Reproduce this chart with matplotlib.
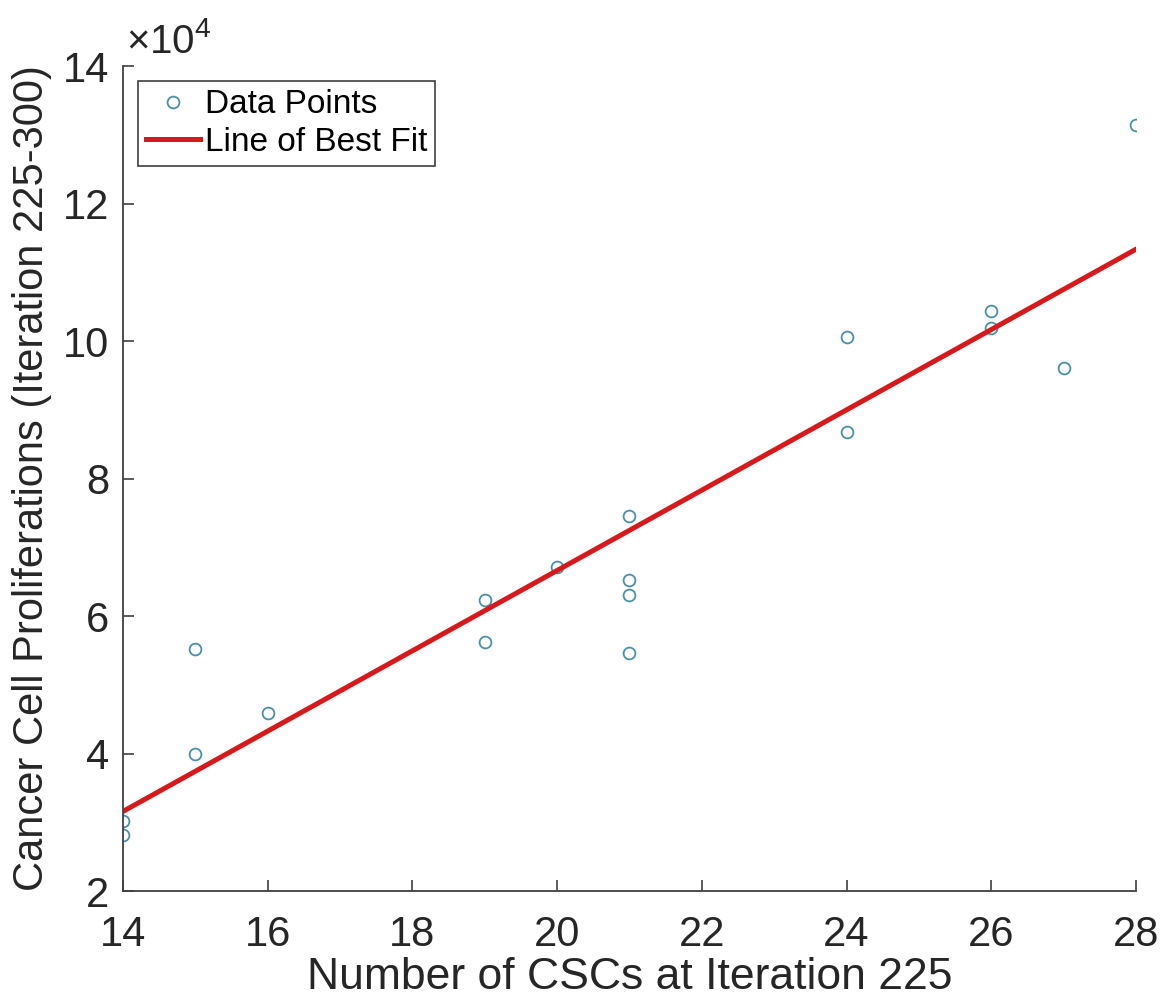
import numpy as np
import matplotlib.pyplot as plt

plt.rcParams['font.family'] = ['Liberation Sans', 'DejaVu Sans']
plt.rcParams['mathtext.fontset'] = 'custom'
plt.rcParams['mathtext.rm'] = 'Liberation Sans'

# Data
csc_count = [14, 14, 15, 15, 16, 19, 19, 20, 21, 21, 21, 21, 24, 24, 26, 26, 27, 28]
proliferations = [30200, 28100, 39900, 55200, 45900, 62300, 56200, 67100, 74500,
                  65200, 63100, 54600, 100600, 86800, 104400, 101900, 96100, 131400]

x = np.array(csc_count)
y = np.array(proliferations)

# Line of best fit
slope, intercept = np.polyfit(x, y, 1)
x_fit = np.array([x.min(), x.max()])
y_fit = slope * x_fit + intercept

fig = plt.figure(figsize=(11.64, 10.05), dpi=100)
ax = fig.add_axes([0.1057, 0.1134, 0.8702, 0.8209])

ax.plot(x, y, 'o', mfc='none', mec='#4a90a8', mew=1.3, ms=8.5, label='Data Points')
ax.plot(x_fit, y_fit, color='#d7191c', lw=3.6, label='Line of Best Fit')

ax.set_xlim(14, 28)
ax.set_ylim(20000, 140000)
ax.set_xticks(np.arange(14, 29, 2))
ax.set_yticks(np.arange(20000, 140001, 20000))
ax.set_yticklabels([str(v // 10000) for v in range(20000, 140001, 20000)])
ax.text(0.003, 1.016, '\u00d7' + r'$10^{4}$', transform=ax.transAxes, fontsize=29,
        color='#262626', ha='left', va='baseline')

for side in ['top', 'right']:
    ax.spines[side].set_visible(False)
for side in ['left', 'bottom']:
    ax.spines[side].set_color('#404040')
    ax.spines[side].set_linewidth(1.3)

ax.tick_params(direction='in', length=8, width=1.2, colors='#404040',
               labelsize=30, labelcolor='#262626')
ax.tick_params(axis='x', pad=17)
ax.tick_params(axis='y', pad=10)

ax.set_xlabel('Number of CSCs at Iteration 225', fontsize=32, color='#262626', labelpad=2)
ax.set_ylabel('Cancer Cell Proliferations (Iteration 225-300)', fontsize=30,
              color='#262626', labelpad=8)

leg = ax.legend(loc='upper left', fontsize=24, fancybox=False, framealpha=1,
                edgecolor='#404040', borderpad=0.25, handlelength=1.6,
                handletextpad=0.15, borderaxespad=0.45, labelspacing=0.2)
leg.get_frame().set_linewidth(1.2)

fig.savefig('out.png', dpi=100)
